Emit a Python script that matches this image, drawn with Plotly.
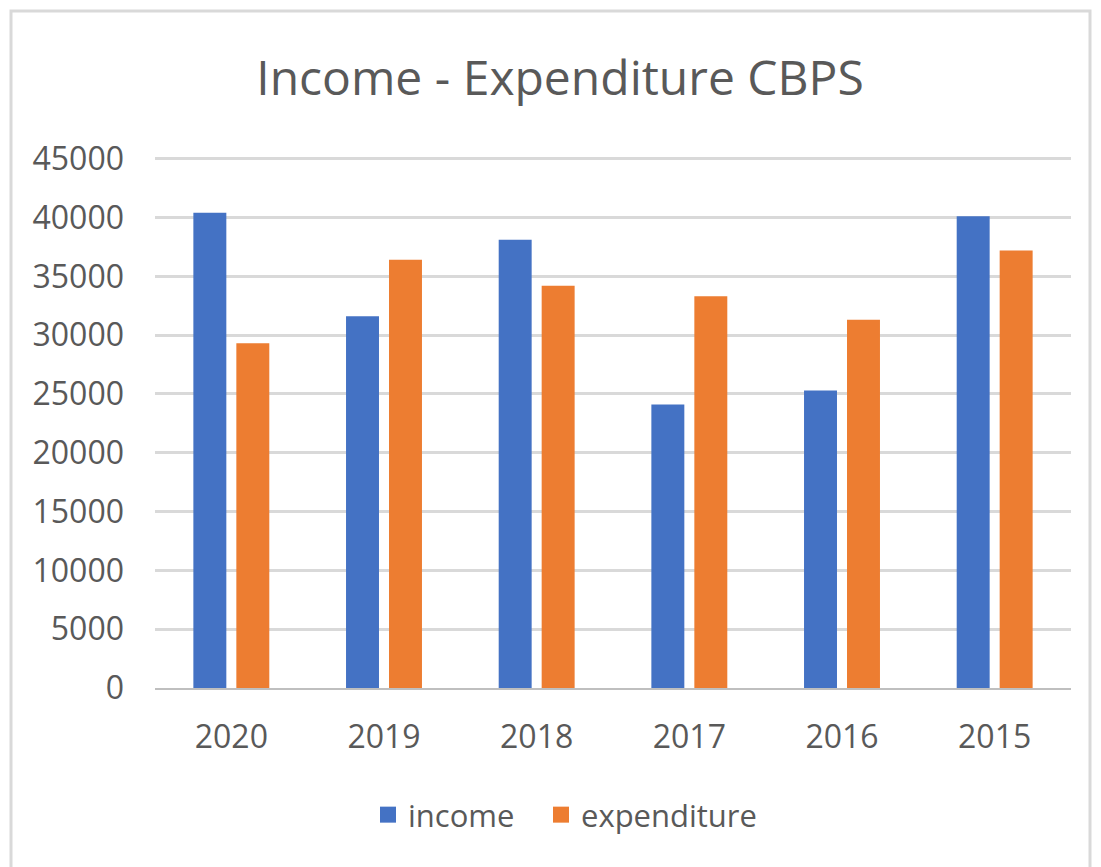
import plotly.graph_objects as go

years = ["2020", "2019", "2018", "2017", "2016", "2015"]
income = [40400, 31600, 38100, 24100, 25300, 40100]
expenditure = [29300, 36400, 34200, 33300, 31300, 37200]
y_ticks = [0, 5000, 10000, 15000, 20000, 25000, 30000, 35000, 40000, 45000]
y_labels = [str(v) for v in y_ticks]

FONT = "Open Sans"
TXT = "#595959"
BLUE = "#4472C4"
ORANGE = "#ED7D31"

# page has an 8px body margin: target screen coords minus 8
OFF = 8
W, H = 1101, 867
Y_TOP = 45400
pix_per_unit = (688 - 159) / 45000
L = 155 - OFF
T = 159 - OFF - round((Y_TOP - 45000) * pix_per_unit)
R = W - (1071 - OFF)
B = H - (688 - OFF)
pw = W - L - R
ph = H - T - B

def px(x):
    return (x - OFF - L) / pw

def py(y):
    return (H - B - (y - OFF)) / ph

fig = go.Figure()
fig.add_trace(go.Bar(name="income", x=years, y=income, marker=dict(color=BLUE, line=dict(width=0)),
                     showlegend=False))
fig.add_trace(go.Bar(name="expenditure", x=years, y=expenditure, marker=dict(color=ORANGE, line=dict(width=0)),
                     showlegend=False))
# legend entries with larger square symbols, one legend each for exact placement
fig.add_trace(go.Scatter(name="income", x=[None], y=[None], mode="markers", legend="legend",
                         marker=dict(symbol="square", size=18, color=BLUE)))
fig.add_trace(go.Scatter(name="expenditure", x=[None], y=[None], mode="markers", legend="legend2",
                         marker=dict(symbol="square", size=18, color=ORANGE)))

leg_common = dict(orientation="h", yanchor="middle", y=py(815), xanchor="left",
                  font=dict(family=FONT, size=31, color=TXT), itemwidth=30, bgcolor="rgba(0,0,0,0)")

fig.update_layout(
    width=W, height=H,
    margin=dict(l=L, r=R, t=T, b=B),
    paper_bgcolor="white", plot_bgcolor="white",
    barmode="group", bargap=0.437, bargroupgap=0.233,
    title=dict(text="Income - Expenditure CBPS", x=(560 - OFF) / W, xref="container", xanchor="center",
               y=1 - (78 - OFF) / H, yref="container", yanchor="middle",
               font=dict(family=FONT, size=48, color=TXT)),
    font=dict(family=FONT, color=TXT, size=30),
    legend=dict(x=px(368), **leg_common),
    legend2=dict(x=px(541), **leg_common),
    xaxis=dict(showgrid=False, showline=True, linecolor="#BFBFBF", linewidth=2,
               ticks="", tickfont=dict(size=32, color=TXT), ticklabelstandoff=20),
    yaxis=dict(range=[0, Y_TOP], tickvals=y_ticks, ticktext=y_labels, showgrid=True,
               gridcolor="#D9D9D9", gridwidth=2.5,
               zeroline=False, showline=False, ticks="", tickfont=dict(size=32, color=TXT),
               ticklabelstandoff=30),
    shapes=[dict(type="rect", xref="paper", yref="paper",
                 x0=px(11), x1=px(1090), y0=py(890), y1=py(11),
                 line=dict(color="#D9D9D9", width=3), layer="below")],
)

fig.write_html("out.html")
